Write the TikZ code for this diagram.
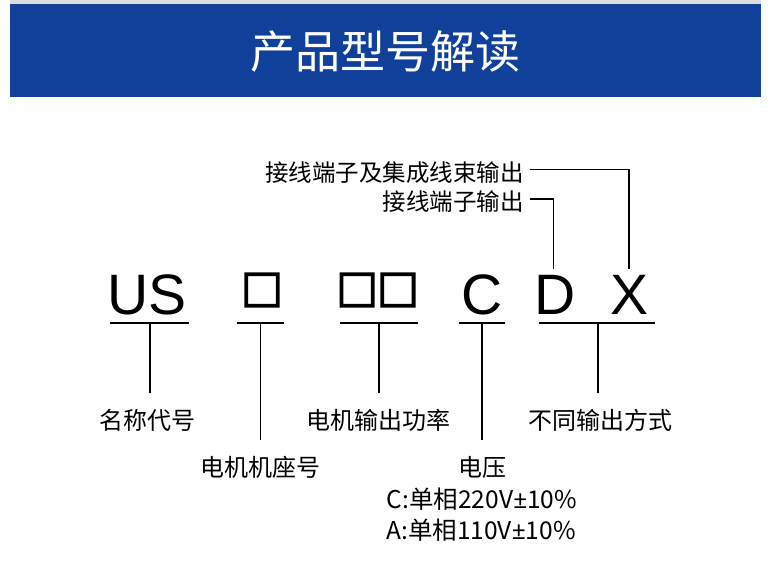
\documentclass[tikz,border=0pt]{standalone}
\usepackage{fontspec}
\setmainfont{Noto Sans CJK SC}
\newfontfamily\codefont{Liberation Sans}
\newfontfamily\blankfont[FakeBold=3]{Liberation Sans}
\newfontfamily\signfont{Noto Sans}
\usepackage{tikz}
\usetikzlibrary{positioning,calc}
\definecolor{bandblue}{HTML}{11409A}
\definecolor{edgegray}{HTML}{DCDCDC}
\newcommand{\pmsign}{{\signfont ±}}
\tikzset{
  title/.style={font=\fontsize{45}{50}\selectfont,text=white,inner sep=0pt},
  code/.style={font=\codefont\fontsize{57}{60}\selectfont,inner sep=0pt,anchor=base},
  blank/.style={font=\blankfont\fontsize{56}{60}\selectfont,inner sep=0pt},
  lbl/.style={font=\fontsize{24}{28}\selectfont,inner sep=0pt},
  toplbl/.style={font=\fontsize{23.5}{28}\selectfont,inner sep=0pt,anchor=east},
  volt/.style={font=\fontsize{24.5}{28}\selectfont,inner sep=0pt},
  uline/.style={line width=1.6pt},
  lead/.style={line width=1.6pt},
}

\begin{document}
\begin{tikzpicture}[x=1pt,y=-1pt]
  \useasboundingbox (0,0) rectangle (770,580);

  %% ── Header band ──────────────────────────────────────────────────────────
  \fill[edgegray] (10,0) rectangle (761,4);
  \fill[bandblue] (10,4) rectangle (761,97);
  \node[title] (title) at (385,52) {产品型号解读};

  %% ── Model code ───────────────────────────────────────────────────────────
  \node[code] (US) at (147,314)   {US};
  \node[blank] (B1) at (262,290)  {□};
  \node[blank] (B2) at (377.5,290) {□\kern7pt□};
  \node[code] (C)  at (482,314)   {C};
  \node[code] (D)  at (555.5,314) {D};
  \node[code] (X)  at (629,314)   {X};

  %% ── Underlines ───────────────────────────────────────────────────────────
  \draw[uline] (110,323)   -- (189,323);
  \draw[uline] (236.5,323) -- (283.5,323);
  \draw[uline] (339.5,323) -- (417.5,323);
  \draw[uline] (458.5,323) -- (505,323);
  \draw[uline] (538.5,323) -- (654.5,323);

  \coordinate (m1) at (150,323);   \coordinate (e1) at (150,393);
  \coordinate (m2) at (260.5,323); \coordinate (e2) at (260.5,440);
  \coordinate (m3) at (379,323);   \coordinate (e3) at (379,393);
  \coordinate (m4) at (482,323);   \coordinate (e4) at (482,440);
  \coordinate (m5) at (598,323);   \coordinate (e5) at (598,393);

  %% ── Labels below ─────────────────────────────────────────────────────────
  \node[lbl]  (L1) at (147,420)   {名称代号};
  \node[lbl]  (L2) at (260.5,467) {电机机座号};
  \node[lbl]  (L3) at (378.5,420) {电机输出功率};
  \node[lbl]  (L4) at (482,467)   {电压};
  \node[volt] (V1) at (482,499)   {C:单相220V\pmsign10\%};
  \node[volt] (V2) at (481,530)   {A:单相110V\pmsign10\%};
  \node[lbl]  (L5) at (600.5,420) {不同输出方式};

  \draw[lead] (m1) -- (e1);
  \draw[lead] (m2) -- (e2);
  \draw[lead] (m3) -- (e3);
  \draw[lead] (m4) -- (e4);
  \draw[lead] (m5) -- (e5);

  %% ── Labels above ─────────────────────────────────────────────────────────
  \node[toplbl] (T1) at (524,172.5) {接线端子及集成线束输出};
  \node[toplbl] (T2) at (524,202)   {接线端子输出};

  \draw[lead,shorten <=6pt,shorten >=6pt] ([yshift=3pt]T1.east) -| (X.north);
  \draw[lead,shorten <=6pt,shorten >=6pt] ([yshift=3pt]T2.east) -| ([xshift=-2pt]D.north);
\end{tikzpicture}
\end{document}
